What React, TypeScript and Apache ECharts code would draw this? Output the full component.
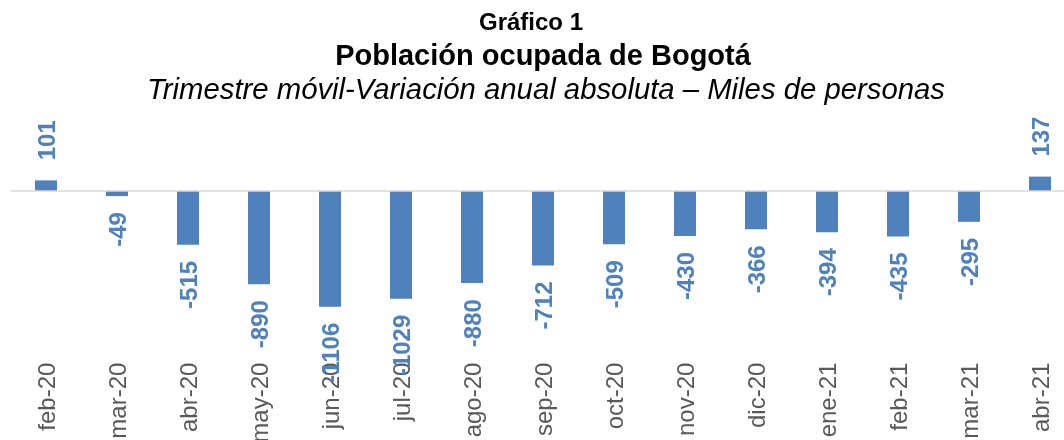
import React, { useEffect, useRef } from "react";
import * as echarts from "echarts";

const categories = [
  "feb-20", "mar-20", "abr-20", "may-20", "jun-20", "jul-20", "ago-20", "sep-20",
  "oct-20", "nov-20", "dic-20", "ene-21", "feb-21", "mar-21", "abr-21",
];
const values = [101, -49, -515, -890, -1106, -1029, -880, -712, -509, -430, -366, -394, -435, -295, 137];

const titleLine1 = "Gráfico 1";
const titleLine2 = "Población ocupada de Bogotá";
const subtitle = "Trimestre móvil-Variación anual absoluta – Miles de personas";

const FONT = 'Arial, "Liberation Sans", sans-serif';
const BAR = "#4F81BD";

export default function App() {
  const ref = useRef<HTMLDivElement>(null);
  useEffect(() => {
    if (!ref.current) return;
    const chart = echarts.init(ref.current, undefined, { renderer: "svg" });
    const seriesData = values.map((v) => ({
      value: v,
      label:
        v >= 0
          ? { position: "top", align: "left", verticalAlign: "middle", distance: 20 }
          : { position: "bottom", align: "right", verticalAlign: "middle", distance: 16 },
    }));
    chart.setOption({
      animation: false,
      textStyle: { fontFamily: FONT },
      graphic: [
        {
          type: "text",
          x: 531,
          y: 21,
          style: { text: titleLine1, font: `bold 24px ${FONT}`, fill: "#000", align: "center", verticalAlign: "middle" },
        },
        {
          type: "text",
          x: 543,
          y: 55,
          style: { text: titleLine2, font: `bold 29px ${FONT}`, fill: "#000", align: "center", verticalAlign: "middle" },
        },
        {
          type: "text",
          x: 546,
          y: 88,
          style: { text: subtitle, font: `italic 29.3px ${FONT}`, fill: "#000", align: "center", verticalAlign: "middle" },
        },
      ],
      grid: {
        left: 10.5,
        top: 170,
        width: 1065,
        height: 146.6,
        containLabel: false,
        outerBoundsMode: "none",
      },
      xAxis: {
        type: "category",
        data: categories,
        axisLine: { show: false, onZero: false },
        axisTick: { show: false },
        axisLabel: {
          interval: 0,
          rotate: 90,
          margin: 46,
          fontSize: 24,
          color: "#595959",
          fontFamily: FONT,
        },
      },
      yAxis: {
        type: "value",
        min: -1200,
        max: 200,
        show: false,
        splitLine: { show: false },
      },
      series: [
        {
          type: "bar",
          data: seriesData,
          barWidth: 22,
          itemStyle: { color: BAR },
          label: {
            show: true,
            rotate: 90,
            fontSize: 24,
            fontWeight: "bold",
            color: BAR,
            fontFamily: FONT,
          },
          markLine: {
            silent: true,
            symbol: "none",
            label: { show: false },
            lineStyle: { color: "#D9D9D9", width: 1.5, type: "solid" },
            data: [{ yAxis: 0 }],
          },
        },
      ],
    });
    return () => chart.dispose();
  }, []);
  return <div ref={ref} style={{ position: "fixed", left: 0, top: 0, width: 1064, height: 440 }} />;
}
